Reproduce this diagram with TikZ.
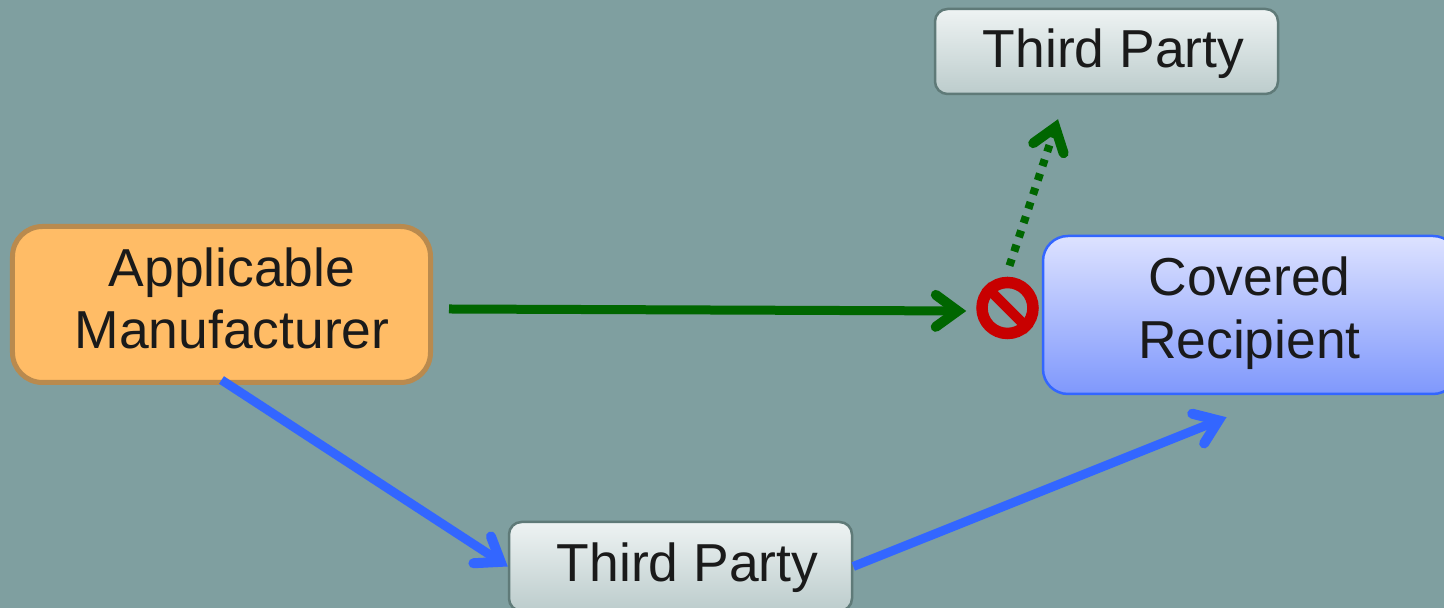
\documentclass[tikz,border=0pt]{standalone}
\usepackage{fontspec}
\setmainfont{Liberation Sans}
\usetikzlibrary{arrows.meta}
\definecolor{slatebg}{HTML}{7F9FA0}
\definecolor{inktext}{HTML}{1A1A1A}
\definecolor{barbgreen}{HTML}{006600}
\definecolor{barbblue}{HTML}{3366FF}
\definecolor{stopred}{HTML}{C80000}
\definecolor{manuedge}{HTML}{B98A4E}
\definecolor{manufill}{HTML}{FFBC66}
\definecolor{recipup}{HTML}{DDE2FF}
\definecolor{recipdown}{HTML}{7F98FC}
\definecolor{partyedge}{HTML}{5F7A78}
\definecolor{partyup}{HTML}{EEF3F3}
\definecolor{partydown}{HTML}{BCCCCC}
\tikzset{
    boxtext/.style={text=inktext, align=center, font=\fontsize{30.4}{35.6}\selectfont},
    manubox/.style={draw=manuedge, fill=manufill, line width=0.1cm, rounded corners=0.6cm, minimum width=8.36cm, minimum height=3.12cm},
    recipbox/.style={draw=barbblue, line width=0.05cm, rounded corners=0.5cm, top color=recipup, bottom color=recipdown, minimum width=8.3cm, minimum height=3.16cm},
    partybox/.style={draw=partyedge, line width=0.05cm, rounded corners=0.25cm, top color=partyup, bottom color=partydown, minimum width=6.86cm, minimum height=1.7cm},
    barb/.style={line width=0.18cm, -{Straight Barb[length=0.44cm,width=0.64cm,line width=0.2cm,line cap=round,line join=miter]}},
}
\begin{document}
\begin{tikzpicture}
    % Background
    \useasboundingbox (0,0) rectangle (28.88,12.16);
    \fill[slatebg] (0,0) rectangle (28.88,12.16);

    % Boxes
    \node[manubox, label={[boxtext, xshift=0.21cm, yshift=0.12cm]center:Applicable\\Manufacturer}] (manufacturer) at (4.43,6.07) {};
    \node[recipbox, label={[boxtext, xshift=-0.02cm, yshift=0.04cm]center:Covered\\Recipient}] (recipient) at (25.01,5.86) {};
    \node[partybox, label={[boxtext, xshift=0.14cm, yshift=-0.05cm]center:Third Party}] (partytop) at (22.13,11.13) {};
    \node[partybox, minimum height=1.78cm, label={[boxtext, xshift=0.14cm, yshift=-0.02cm]center:Third Party}] (partylow) at (13.61,0.83) {};

    % Stop sign
    \node[circle, draw=stopred, line width=0.23cm, minimum size=1.02cm, inner sep=0pt] (stopsign) at (20.15,6.0) {};
    \draw[stopred, line width=0.2cm] (stopsign.135) -- (stopsign.-45);

    % Free ends of the arrows
    \coordinate (greenstart) at ([xshift=0.32cm,yshift=-0.09cm]manufacturer.east);
    \coordinate (greentip) at ([xshift=-0.2cm,yshift=-0.06cm]stopsign.west);
    \coordinate (dotstart) at ([xshift=0.04cm,yshift=0.22cm]stopsign.north);
    \coordinate (dottip) at ([xshift=-0.97cm,yshift=-0.48cm]partytop.south);
    \coordinate (bluestart) at ([yshift=0.1cm]manufacturer.south);
    \coordinate (bluetip) at ([xshift=-0.48cm,yshift=-0.44cm]recipient.south);

    % Arrows
    \draw[barb, barbgreen] (greenstart) -- (greentip);
    \draw[barb, barbgreen, line width=0.16cm, dash pattern=on 0.14cm off 0.16cm] (dotstart) -- (dottip);
    \draw[barb, barbblue] (bluestart) -- (partylow.west);
    \draw[barb, barbblue] (partylow.east) -- (bluetip);
\end{tikzpicture}
\end{document}
